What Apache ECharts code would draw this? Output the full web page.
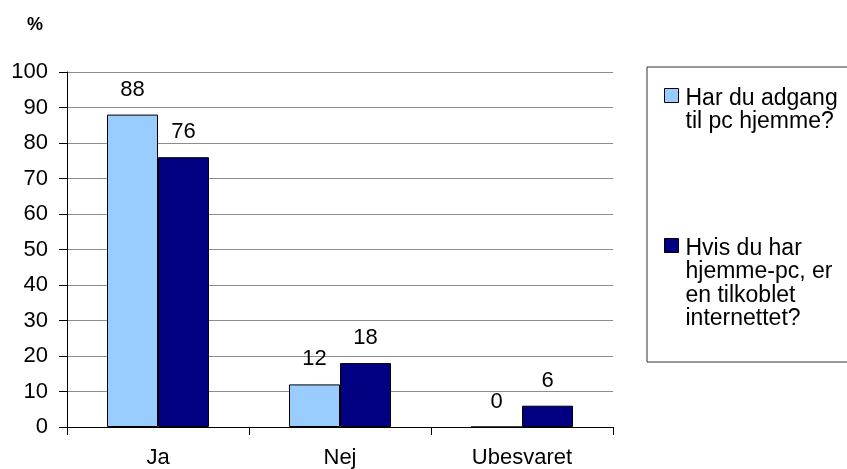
<!DOCTYPE html>
<html>
<head>
<meta charset="utf-8">
<script src="https://cdn.jsdelivr.net/npm/echarts@6/dist/echarts.min.js"></script>
<style>
html,body{margin:0;padding:0;background:#fff;}
#c{width:847px;height:469px;}
</style>
</head>
<body>
<div id="c"></div>
<script>
const categories = ['Ja', 'Nej', 'Ubesvaret'];
const seriesNames = ['Har du adgang til pc hjemme?', 'Hvis du har hjemme-pc, er en tilkoblet internettet?'];
const legendLabels = ['Har du adgang\ntil pc hjemme?', 'Hvis du har\nhjemme-pc, er\nen tilkoblet\ninternettet?'];
const valuesPc = [88, 12, 0];
const valuesNet = [76, 18, 6];
const yTicks = { min: 0, max: 100, interval: 10 };
const unitLabel = '%';

const FONT = '"Liberation Sans", Arial, Helvetica, sans-serif';
const chart = echarts.init(document.getElementById('c'), null, { renderer: 'canvas' });

const barLabel = { show: true, position: 'top', distance: 14, fontSize: 22, color: '#000', fontFamily: FONT };
const legendText = { fontSize: 23, lineHeight: 23.5, color: '#000', fontFamily: FONT };

chart.setOption({
  animation: false,
  backgroundColor: '#fff',
  title: {
    text: unitLabel, left: 27, top: 16, padding: 0,
    textStyle: { fontSize: 18, fontWeight: 'bold', color: '#000', fontFamily: FONT }
  },
  grid: { left: 67, top: 72, right: 234, bottom: 42, containLabel: false },
  legend: [
    {
      orient: 'vertical', left: 647, top: 67,
      padding: [19, 40, 228, 17],
      borderColor: '#333', borderWidth: 1,
      itemWidth: 16, itemHeight: 47, selectedMode: false,
      textStyle: legendText,
      formatter: function (n) { return legendLabels[seriesNames.indexOf(n)]; },
      data: [{ name: seriesNames[0], icon: 'path://M0,2H14V16H0Z M0,0 M16,47',
               itemStyle: { color: '#99CCFF', borderColor: '#000', borderWidth: 1 } }]
    },
    {
      orient: 'vertical', left: 664, top: 236, padding: 0,
      itemWidth: 16, itemHeight: 94, selectedMode: false,
      textStyle: legendText,
      formatter: function (n) { return legendLabels[seriesNames.indexOf(n)]; },
      data: [{ name: seriesNames[1], icon: 'path://M0,2H14V16H0Z M0,0 M16,94',
               itemStyle: { color: '#000080', borderColor: '#000', borderWidth: 1 } }]
    }
  ],
  xAxis: {
    type: 'category', data: categories, boundaryGap: true,
    axisLine: { show: true, lineStyle: { color: '#000', width: 1 } },
    axisTick: { show: true, length: 8, interval: 0, alignWithLabel: false, lineStyle: { color: '#000' } },
    axisLabel: { fontSize: 22, margin: 20, color: '#000', fontFamily: FONT, interval: 0 },
    splitLine: { show: false }
  },
  yAxis: {
    type: 'value', min: yTicks.min, max: yTicks.max, interval: yTicks.interval,
    axisLine: { show: true, lineStyle: { color: '#000', width: 1 } },
    axisTick: { show: true, length: 8, lineStyle: { color: '#000' } },
    axisLabel: { fontSize: 22, margin: 19, color: '#000', fontFamily: FONT },
    splitLine: { show: true, lineStyle: { color: '#8c8c8c', width: 1 } }
  },
  series: [
    {
      name: seriesNames[0], type: 'bar', data: valuesPc,
      barWidth: 51, barGap: '0%',
      itemStyle: { color: '#99CCFF', borderColor: '#000', borderWidth: 1 },
      label: barLabel
    },
    {
      name: seriesNames[1], type: 'bar', data: valuesNet,
      barWidth: 51, barGap: '0%',
      itemStyle: { color: '#000080', borderColor: '#000', borderWidth: 1 },
      label: barLabel
    }
  ]
});
</script>
</body>
</html>
